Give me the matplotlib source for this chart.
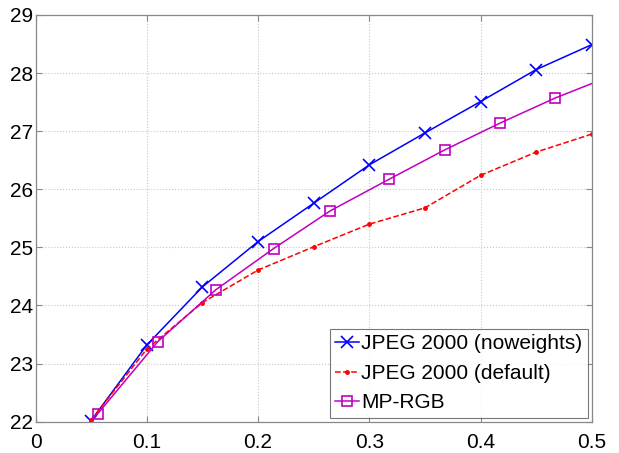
import matplotlib
matplotlib.use("Agg")
import matplotlib.pyplot as plt

plt.rcParams['font.family'] = ['Liberation Sans', 'DejaVu Sans']

rates = [0.05, 0.10, 0.15, 0.20, 0.25, 0.30, 0.35, 0.40, 0.45, 0.50]
jp2_noweights = [22.02, 23.32, 24.32, 25.10, 25.76, 26.42, 26.97, 27.51, 28.06, 28.49]
jp2_default = [22.03, 23.25, 24.05, 24.61, 25.01, 25.40, 25.68, 26.24, 26.64, 26.95]

mp_rates = [0.05, 0.056, 0.110, 0.162, 0.214, 0.265, 0.3175, 0.368, 0.4176, 0.467, 0.5]
mp_rgb = [22.04, 22.14, 23.38, 24.27, 24.98, 25.63, 26.17, 26.68, 27.14, 27.57, 27.82]

xticks = [0, 0.1, 0.2, 0.3, 0.4, 0.5]
xticklabels = ['0', '0.1', '0.2', '0.3', '0.4', '0.5']
yticks = [22, 23, 24, 25, 26, 27, 28, 29]

fig = plt.figure(figsize=(6.19, 4.53), dpi=100)
ax = fig.add_axes([0.0574, 0.0691, 0.8986, 0.8978])

ax.plot(rates, jp2_noweights, color='#0000ff', marker='x', markersize=9,
        markeredgewidth=1.2, linewidth=1.1, label='JPEG 2000 (noweights)')
ax.plot(rates, jp2_default, color='#ff0000', marker='.', markersize=5,
        linestyle='--', linewidth=1.1, label='JPEG 2000 (default)')
ax.plot(mp_rates, mp_rgb, color='#c000c0', marker='s', markersize=7.5,
        markerfacecolor='none', markeredgewidth=1.2, linewidth=1.1,
        markevery=list(range(1, len(mp_rates) - 1)), label='MP-RGB')

ax.set_xlim(0, 0.5)
ax.set_ylim(22, 29)
ax.set_xticks(xticks)
ax.set_xticklabels(xticklabels)
ax.set_yticks(yticks)
ax.grid(True, linestyle=':', color='#c8c8c8', linewidth=0.8)
ax.tick_params(direction='in', length=4, color='#888888', labelsize=15,
               top=True, right=True)
ax.tick_params(axis='x', pad=8)
ax.tick_params(axis='y', pad=2)
for s in ax.spines.values():
    s.set_color('#888888')
    s.set_linewidth(0.9)

leg = ax.legend(loc='lower right', fontsize=15, frameon=True, fancybox=False,
                edgecolor='#555555', handlelength=1.15, handletextpad=0.1,
                borderpad=0.25, labelspacing=0.5, borderaxespad=0.2)
leg.get_frame().set_linewidth(0.8)

fig.savefig('out.png', dpi=100)
